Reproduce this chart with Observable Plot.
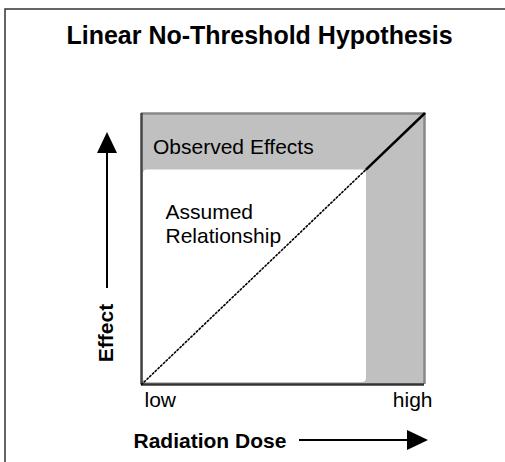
<!DOCTYPE html>
<html>
<head>
<meta charset="utf-8">
<script src="https://cdn.jsdelivr.net/npm/d3@7"></script>
<script src="https://cdn.jsdelivr.net/npm/@observablehq/plot@0.6"></script>
<style>
  html, body { margin: 0; padding: 0; background: #fff; overflow: hidden; width: 505px; height: 462px; }
  #chart { width: 505px; height: 462px; overflow: hidden; }
  #chart svg { display: block; }
</style>
</head>
<body>
<div id="chart"></div>
<script>
// ---- data ----
const title = "Linear No-Threshold Hypothesis";
const dose = [0, 0.795, 1];          // relative radiation dose
const effect = [0, 0.795, 1];        // relative effect
const doseTicks = [0, 1];
const doseTickLabels = ["low", "high"];
const xLabel = "Radiation Dose";
const yLabel = "Effect";
const observedLabel = "Observed Effects";
const assumedLabel = "Assumed\nRelationship";

// tables built from the arrays
const assumed = [0, 1].map(i => ({dose: dose[i], effect: effect[i]}));
const observed = [1, 2].map(i => ({dose: dose[i], effect: effect[i]}));
const threshold = {dose: dose[1], effect: effect[1]};
const ticks = doseTicks.map((v, i) => ({v, label: doseTickLabels[i]}));

const font = "'Liberation Sans', Arial, Helvetica, sans-serif";

const svg = Plot.plot({
  width: 505,
  height: 462,
  marginLeft: 141,
  marginRight: 81,
  marginTop: 113,
  marginBottom: 78,
  x: {domain: [0, 1], axis: null},
  y: {domain: [0, 1], axis: null},
  style: {fontFamily: font, background: "#fff", color: "#000"},
  marks: [
    // observed-effects region (grey)
    Plot.rect([{}], {x1: 0, x2: 1, y1: 0, y2: 1, fill: "#c0c0c0"}),
    // region below the observed threshold (white)
    Plot.rect([threshold], {x1: 0, x2: "dose", y1: 0, y2: "effect", fill: "#fff",
      rx: 4, insetLeft: 2, insetBottom: 2, insetTop: 1}),
    // frame
    Plot.ruleY([1], {stroke: "#888", strokeWidth: 2.5}),
    Plot.ruleX([1], {stroke: "#888", strokeWidth: 2.5}),
    Plot.ruleX([0], {stroke: "#444", strokeWidth: 2.5}),
    Plot.ruleY([0], {stroke: "#333", strokeWidth: 2.5}),
    // assumed (extrapolated) linear relationship
    Plot.line(assumed, {x: "dose", y: "effect", stroke: "#000", strokeWidth: 1.6, strokeDasharray: "1.6,2.2"}),
    // observed relationship
    Plot.line(observed, {x: "dose", y: "effect", stroke: "#000", strokeWidth: 2.5}),
    // labels in the plot
    Plot.text([observedLabel], {frameAnchor: "top-left", dx: 11.5, dy: 40, textAnchor: "start",
      lineAnchor: "bottom", fontSize: 21, fill: "#000"}),
    Plot.text([assumedLabel], {frameAnchor: "top-left", dx: 24, dy: 88, textAnchor: "start",
      lineAnchor: "top", lineHeight: 1.15, fontSize: 21, fill: "#000"}),
    // tick labels
    Plot.text(ticks.filter(d => d.v === 0), {x: "v", text: "label", frameAnchor: "bottom", dx: 3, dy: 22,
      textAnchor: "start", lineAnchor: "bottom", fontSize: 21, fill: "#000"}),
    Plot.text(ticks.filter(d => d.v === 1), {x: "v", text: "label", frameAnchor: "bottom", dx: 8, dy: 22,
      textAnchor: "end", lineAnchor: "bottom", fontSize: 21, fill: "#000"}),
    // axis titles
    Plot.text([xLabel], {frameAnchor: "bottom-left", dx: -8, dy: 63, textAnchor: "start",
      lineAnchor: "bottom", fontSize: 21, fontWeight: "bold", fill: "#000"}),
    Plot.text([yLabel], {frameAnchor: "bottom-left", dx: -29, dy: -51.5, rotate: -90, textAnchor: "middle",
      lineAnchor: "bottom", fontSize: 21, fontWeight: "bold", fill: "#000"}),
    // title
    Plot.text([title], {frameAnchor: "top-left", dx: 118, dy: -70, textAnchor: "middle",
      lineAnchor: "bottom", fontSize: 25, fontWeight: "bold", fill: "#000"})
  ]
});

// decorations: outer border (top and left edges visible) and direction arrows
const sx = svg.scale("x"), sy = svg.scale("y");
const fL = sx.apply(0), fR = sx.apply(1), fT = sy.apply(1), fB = sy.apply(0);
const g = d3.select(svg);
g.insert("path", "g")
  .attr("d", "M5,462V9H505")
  .attr("fill", "none").attr("stroke", "#333").attr("stroke-width", 1.5);

const deco = g.append("g").attr("fill", "#000").attr("stroke", "#000");
// vertical arrow (Effect increases upward)
const ax = fL - 34;
deco.append("line").attr("x1", ax).attr("x2", ax).attr("y1", fB - 96).attr("y2", fT + 38).attr("stroke-width", 2);
deco.append("path").attr("stroke", "none")
  .attr("d", `M${ax - 10},${fT + 40}L${ax + 10},${fT + 40}L${ax},${fT + 19}Z`);
// horizontal arrow (Dose increases to the right)
const ay = fB + 56;
deco.append("line").attr("x1", fL + 158).attr("x2", fR - 14).attr("y1", ay).attr("y2", ay).attr("stroke-width", 2);
deco.append("path").attr("stroke", "none")
  .attr("d", `M${fR - 17},${ay - 10}L${fR - 17},${ay + 10}L${fR + 4},${ay}Z`);

document.getElementById("chart").appendChild(svg);
</script>
</body>
</html>
